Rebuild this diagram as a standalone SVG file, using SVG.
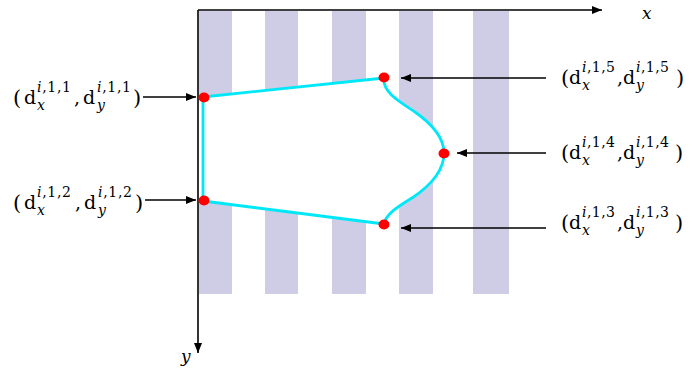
<svg xmlns="http://www.w3.org/2000/svg" width="692" height="371" viewBox="0 0 692 371">
<style>
.stripe{fill:#cfcce6}
.axis{stroke:#000;stroke-width:1.6;fill:none}
.conn{stroke:#000;stroke-width:1.3;fill:none}
.shape{fill:#fff;stroke:#00e8f8;stroke-width:2.8;stroke-linejoin:round}
.dot{fill:#f00}
.t{font-family:"DejaVu Serif","Liberation Serif",serif;font-size:19px;fill:#000}
.p{font-size:21px}
.sc{font-size:14px}
.it{font-style:italic}
.ax{font-family:"DejaVu Serif","Liberation Serif",serif;font-size:17px;font-style:italic;fill:#000}
</style>
<defs>
<marker id="ah" viewBox="0 0 10 8" refX="10" refY="4" markerWidth="10" markerHeight="8" markerUnits="userSpaceOnUse" orient="auto">
<path d="M0,0 L10,4 L0,8 Z" fill="#000"/>
</marker>
</defs>
<rect width="692" height="371" fill="#fff"/>
<g id="stripes">
<rect class="stripe" x="199" y="11" width="33" height="283"/>
<rect class="stripe" x="265" y="11" width="33" height="283"/>
<rect class="stripe" x="332" y="11" width="34" height="283"/>
<rect class="stripe" x="399" y="11" width="34" height="283"/>
<rect class="stripe" x="473" y="11" width="36" height="283"/>
</g>
<g id="outline">
<rect x="199" y="97" width="5" height="104" fill="#fff"/>
<path class="shape" d="M203 97 L384 78 C382 92 400 102 415 112 C432 124 444 138 444 153 C444 172 430 186 412 198 C396 208 386 214 384 224 L203 201 Z"/>
</g>
<g id="axes">
<line class="axis" x1="198" y1="10" x2="602" y2="10" marker-end="url(#ah)"/>
<line class="axis" x1="198" y1="10" x2="198" y2="353" marker-end="url(#ah)"/>
<text class="ax" x="642" y="19">x</text>
<text class="ax" x="181" y="362">y</text>
</g>
<g id="points">
<ellipse id="p1" class="dot" cx="204" cy="97.5" rx="5.5" ry="5"/>
<ellipse id="p2" class="dot" cx="204" cy="200.5" rx="5.5" ry="5"/>
<ellipse id="p3" class="dot" cx="384" cy="224.5" rx="5.5" ry="5"/>
<ellipse id="p4" class="dot" cx="444" cy="153.5" rx="5.5" ry="5"/>
<ellipse id="p5" class="dot" cx="384" cy="77.5" rx="5.5" ry="5"/>
</g>
<g id="connectors">
<line class="conn" x1="143" y1="97" x2="196" y2="97" marker-end="url(#ah)"/>
<line class="conn" x1="145" y1="200" x2="196" y2="200" marker-end="url(#ah)"/>
<line class="conn" x1="546" y1="78" x2="401" y2="78" marker-end="url(#ah)"/>
<line class="conn" x1="546" y1="153" x2="457" y2="153" marker-end="url(#ah)"/>
<line class="conn" x1="546" y1="228" x2="401" y2="228" marker-end="url(#ah)"/>
</g>
<g id="label-p1">
<text class="t p" x="13" y="105">(</text>
<text class="t" x="24" y="104">d</text>
<text class="t sc" x="37" y="92" textLength="34" lengthAdjust="spacing"><tspan class="it">i</tspan>,1,1</text>
<text class="t sc it" x="37" y="110">x</text>
<text class="t" x="74" y="104">,</text>
<text class="t" x="83" y="104">d</text>
<text class="t sc" x="97" y="92" textLength="34" lengthAdjust="spacing"><tspan class="it">i</tspan>,1,1</text>
<text class="t sc it" x="97" y="110">y</text>
<text class="t p" x="133" y="105">)</text>
</g>
<g id="label-p2">
<text class="t p" x="13" y="210">(</text>
<text class="t" x="24" y="209">d</text>
<text class="t sc" x="37" y="197" textLength="34" lengthAdjust="spacing"><tspan class="it">i</tspan>,1,2</text>
<text class="t sc it" x="37" y="215">x</text>
<text class="t" x="75" y="209">,</text>
<text class="t" x="84" y="209">d</text>
<text class="t sc" x="98" y="197" textLength="34" lengthAdjust="spacing"><tspan class="it">i</tspan>,1,2</text>
<text class="t sc it" x="98" y="215">y</text>
<text class="t p" x="135" y="210">)</text>
</g>
<g id="label-p5">
<text class="t p" x="561" y="85">(</text>
<text class="t" x="569" y="84">d</text>
<text class="t sc" x="582" y="72" textLength="33" lengthAdjust="spacing"><tspan class="it">i</tspan>,1,5</text>
<text class="t sc it" x="582" y="90">x</text>
<text class="t" x="617" y="84">,</text>
<text class="t" x="623" y="84">d</text>
<text class="t sc" x="636" y="72" textLength="33" lengthAdjust="spacing"><tspan class="it">i</tspan>,1,5</text>
<text class="t sc it" x="636" y="90">y</text>
<text class="t p" x="676" y="85">)</text>
</g>
<g id="label-p4">
<text class="t p" x="561" y="160">(</text>
<text class="t" x="569" y="159">d</text>
<text class="t sc" x="582" y="147" textLength="33" lengthAdjust="spacing"><tspan class="it">i</tspan>,1,4</text>
<text class="t sc it" x="582" y="165">x</text>
<text class="t" x="617" y="159">,</text>
<text class="t" x="623" y="159">d</text>
<text class="t sc" x="636" y="147" textLength="33" lengthAdjust="spacing"><tspan class="it">i</tspan>,1,4</text>
<text class="t sc it" x="636" y="165">y</text>
<text class="t p" x="675" y="160">)</text>
</g>
<g id="label-p3">
<text class="t p" x="561" y="230">(</text>
<text class="t" x="569" y="229">d</text>
<text class="t sc" x="582" y="217" textLength="33" lengthAdjust="spacing"><tspan class="it">i</tspan>,1,3</text>
<text class="t sc it" x="582" y="235">x</text>
<text class="t" x="617" y="229">,</text>
<text class="t" x="623" y="229">d</text>
<text class="t sc" x="636" y="217" textLength="33" lengthAdjust="spacing"><tspan class="it">i</tspan>,1,3</text>
<text class="t sc it" x="636" y="235">y</text>
<text class="t p" x="675" y="230">)</text>
</g>
</svg>
